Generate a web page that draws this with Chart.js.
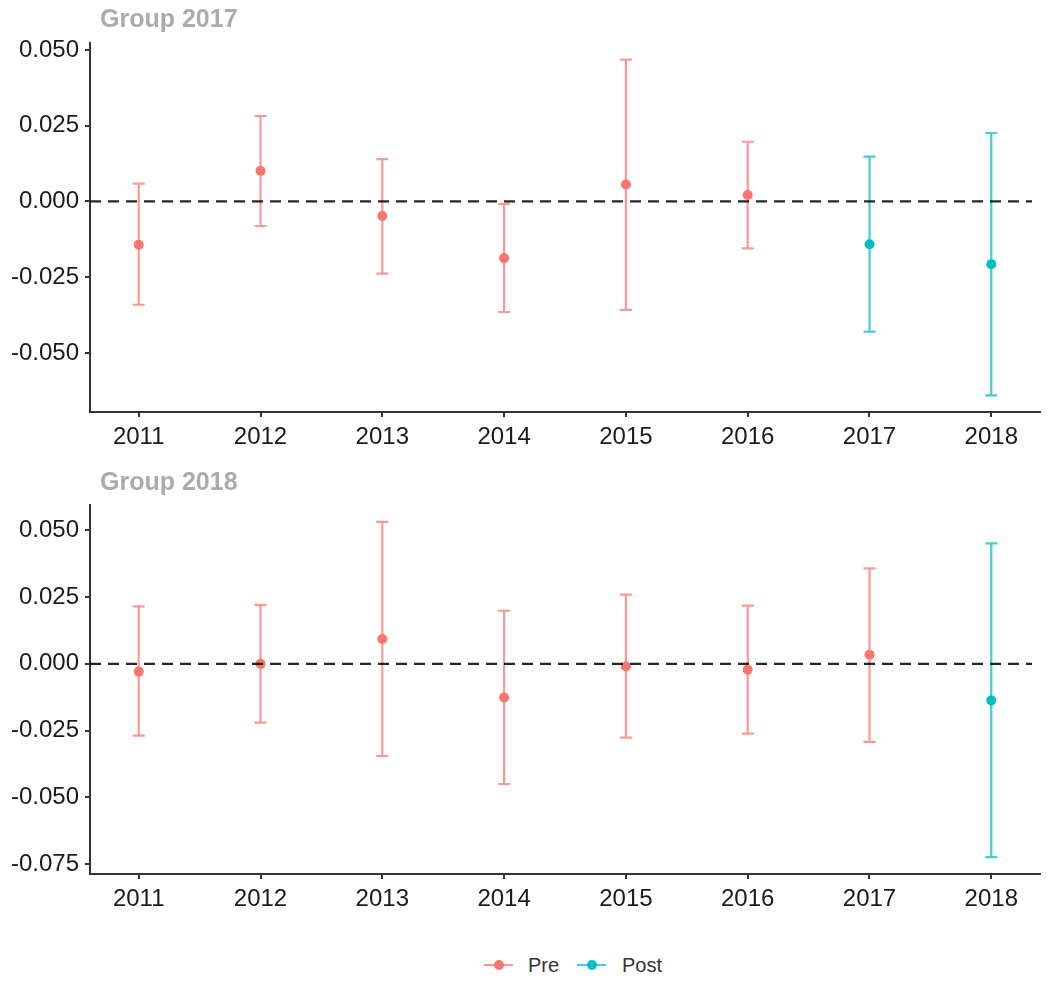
<!DOCTYPE html>
<html>
<head>
<meta charset="utf-8">
<script src="https://cdn.jsdelivr.net/npm/chart.js@4"></script>
<style>
  html, body { margin: 0; padding: 0; background: #fff; }
  body { width: 1050px; height: 984px; position: relative; overflow: hidden; font-family: "Liberation Sans", Arial, sans-serif; }
  .panel { position: absolute; left: 0; width: 1050px; height: 460px; }
  #legend { position: absolute; top: 953px; left: 0; width: 1050px; height: 24px; font-size: 20px; color: #333; }
  .key { position: absolute; top: 0; height: 24px; }
  .key .line { position: absolute; top: 11px; left: 0; width: 29px; height: 2px; }
  .key .dot { position: absolute; top: 7px; left: 10px; width: 10px; height: 10px; border-radius: 50%; }
  .lab { position: absolute; top: 0; line-height: 24px; }
</style>
</head>
<body>
<div class="panel" style="top:0"><canvas id="c1"></canvas></div>
<div class="panel" style="top:460px"><canvas id="c2"></canvas></div>
<div id="legend">
  <div class="key" style="left:484px"><div class="line" style="background:rgba(248,118,109,0.75)"></div><div class="dot" style="background:#F8766D"></div></div>
  <div class="lab" style="left:528px">Pre</div>
  <div class="key" style="left:577px"><div class="line" style="background:rgba(0,191,196,0.75)"></div><div class="dot" style="background:#00BFC4"></div></div>
  <div class="lab" style="left:622px">Post</div>
</div>
<script>
// data
const years = [2011, 2012, 2013, 2014, 2015, 2016, 2017, 2018];

const phase17 = ['Pre', 'Pre', 'Pre', 'Pre', 'Pre', 'Pre', 'Post', 'Post'];
const est17 = [-0.0143, 0.0101, -0.0048, -0.0187, 0.0056, 0.0021, -0.0141, -0.0207];
const lo17  = [-0.0341, -0.0081, -0.0238, -0.0365, -0.0358, -0.0155, -0.0430, -0.0640];
const hi17  = [0.0059, 0.0282, 0.0140, -0.0008, 0.0468, 0.0197, 0.0148, 0.0226];

const phase18 = ['Pre', 'Pre', 'Pre', 'Pre', 'Pre', 'Pre', 'Pre', 'Post'];
const est18 = [-0.0029, 0.0000, 0.0093, -0.0126, -0.0010, -0.0022, 0.0034, -0.0137];
const lo18  = [-0.0269, -0.0220, -0.0345, -0.0450, -0.0276, -0.0261, -0.0292, -0.0724];
const hi18  = [0.0215, 0.0221, 0.0532, 0.0199, 0.0259, 0.0218, 0.0358, 0.0451];

const yTicks17 = [-0.05, -0.025, 0, 0.025, 0.05];
const yTicks18 = [-0.075, -0.05, -0.025, 0, 0.025, 0.05];

const colors = {
    Pre:  { point: '#F8766D', bar: 'rgba(248,118,109,0.75)' },
    Post: { point: '#00BFC4', bar: 'rgba(0,191,196,0.75)' }
};

const FONT = "'Liberation Sans', Arial, sans-serif";

// error bars behind points, dashed zero line on top, panel title
const errorBars = {
    id: 'errorBars',
    beforeDatasetsDraw(chart) {
        const ctx = chart.ctx;
        const xs = chart.scales.x, ys = chart.scales.y;
        ctx.save();
        ctx.lineWidth = 2.2;
        chart.data.datasets.forEach(ds => {
            ctx.strokeStyle = ds.barColor;
            ds.data.forEach(d => {
                const x = xs.getPixelForValue(d.x);
                const yLo = ys.getPixelForValue(d.lo);
                const yHi = ys.getPixelForValue(d.hi);
                ctx.beginPath();
                ctx.moveTo(x, yLo); ctx.lineTo(x, yHi);
                ctx.moveTo(x - 6, yLo); ctx.lineTo(x + 6, yLo);
                ctx.moveTo(x - 6, yHi); ctx.lineTo(x + 6, yHi);
                ctx.stroke();
            });
        });
        ctx.restore();
    },
    afterDatasetsDraw(chart) {
        const ctx = chart.ctx;
        const area = chart.chartArea;
        const y0 = chart.scales.y.getPixelForValue(0);
        ctx.save();
        ctx.strokeStyle = 'rgba(0,0,0,0.85)';
        ctx.lineWidth = 2.2;
        ctx.setLineDash([11, 7]);
        ctx.beginPath();
        ctx.moveTo(area.left, y0);
        ctx.lineTo(area.right - 8, y0);
        ctx.stroke();
        ctx.restore();
    },
    afterDraw(chart) {
        const ctx = chart.ctx;
        ctx.save();
        ctx.font = 'bold 25px ' + FONT;
        ctx.fillStyle = '#ababab';
        ctx.textBaseline = 'middle';
        ctx.fillText(chart.options.panelTitle, chart.chartArea.left + 10, chart.options.titleY);
        ctx.restore();
    }
};

function buildDatasets(phase, est, lo, hi) {
    return ['Pre', 'Post'].map(p => ({
        label: p,
        data: years.map((yr, i) => ({ x: yr, y: est[i], lo: lo[i], hi: hi[i], p: phase[i] }))
                   .filter(d => d.p === p),
        backgroundColor: colors[p].point,
        borderColor: colors[p].point,
        barColor: colors[p].bar,
        pointRadius: 5,
        pointBorderWidth: 0,
        showLine: false
    }));
}

function makeChart(id, title, titleY, phase, est, lo, hi, yMin, yMax, yTicks, top, xHeight) {
    return new Chart(document.getElementById(id), {
        type: 'scatter',
        data: { datasets: buildDatasets(phase, est, lo, hi) },
        options: {
            panelTitle: title,
            titleY: titleY,
            responsive: true,
            maintainAspectRatio: false,
            animation: false,
            events: [],
            layout: { padding: { top: top, right: 10, left: 0, bottom: 0 } },
            plugins: { legend: { display: false }, tooltip: { enabled: false } },
            scales: {
                x: {
                    type: 'linear',
                    min: 2010.6,
                    max: 2018.4,
                    afterBuildTicks: s => { s.ticks = years.map(v => ({ value: v })); },
                    afterFit: s => { s.height = xHeight; },
                    ticks: { color: '#1a1a1a', font: { family: FONT, size: 24 }, padding: 6, callback: v => String(v), maxRotation: 0 },
                    grid: { drawOnChartArea: false, drawTicks: true, tickLength: 5, color: '#333', lineWidth: 2 },
                    border: { display: true, color: '#333', width: 2 }
                },
                y: {
                    min: yMin,
                    max: yMax,
                    afterBuildTicks: s => { s.ticks = yTicks.map(v => ({ value: v })); },
                    afterFit: s => { s.width = 90; },
                    ticks: { color: '#1a1a1a', font: { family: FONT, size: 24 }, padding: 6, callback: v => v.toFixed(3) },
                    grid: { drawOnChartArea: false, drawTicks: true, tickLength: 5, color: '#333', lineWidth: 2 },
                    border: { display: true, color: '#333', width: 2 }
                }
            }
        },
        plugins: [errorBars]
    });
}

makeChart('c1', 'Group 2017', 20, phase17, est17, lo17, hi17, -0.0695, 0.0523, yTicks17, 43, 48);
makeChart('c2', 'Group 2018', 23, phase18, est18, lo18, hi18, -0.0787, 0.0595, yTicks18, 45, 46);
</script>
</body>
</html>
